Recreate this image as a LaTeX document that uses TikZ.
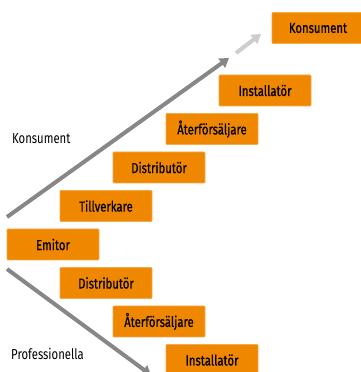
\documentclass[tikz,border=0pt]{standalone}
\usepackage{fontspec}
\setmainfont[FakeStretch=0.78]{Fira Sans}
\newfontfamily\boxfont[FakeStretch=0.78,FakeBold=0.6]{Fira Sans}
\usetikzlibrary{arrows.meta,calc}
\definecolor{boxorange}{RGB}{240,135,0}
\definecolor{arrowgray}{RGB}{135,135,135}
\definecolor{fadegray}{RGB}{205,205,205}

\begin{document}
\begin{tikzpicture}[x=1pt,y=1pt,font=\fontsize{14.5}{16}\selectfont,
    box/.style={fill=boxorange,draw=boxorange!70!white,line width=0.6pt,
      minimum width=92pt,minimum height=31pt,inner sep=0pt,rounded corners=0.8pt,
      font=\boxfont\fontsize{14.5}{16}\selectfont},
    flow/.style={arrowgray,line width=4pt,-{Triangle[length=9pt,width=11pt]}},
    fade/.style={fadegray,line width=4pt,-{Triangle[length=9pt,width=11pt]}}]
    \useasboundingbox (0,0) rectangle (361,372);
    % Emitor
    \node[box] (emitor) at (53,127.5) {Emitor};
    % Konsument chain
    \node[box] (tillv) at ($(emitor)+(53,38.5)$) {Tillverkare};
    \node[box] (distup) at ($(tillv)+(53,38.5)$) {Distributör};
    \node[box] (aterup) at ($(distup)+(53,38.5)$) {Återförsäljare};
    \node[box] (instup) at ($(aterup)+(53,38.5)$) {Installatör};
    \node[box] (kons) at ($(instup)+(53,62.5)$) {Konsument};
    % Professionella chain
    \node[box] (distlow) at ($(emitor)+(53,-38.5)$) {Distributör};
    \node[box] (aterlow) at ($(distlow)+(53,-38.5)$) {Återförsäljare};
    \node[box] (instlow) at ($(aterlow)+(53,-38.5)$) {Installatör};
    % side labels
    \node[anchor=west,inner sep=0pt] (lblkons) at (12,233) {Konsument};
    \node[anchor=west,inner sep=0pt] (lblprof) at (11,18) {Professionella};
    % arrows
    \coordinate (upstart) at (7,155);
    \coordinate (upend) at (229,314);
    \coordinate (fadestart) at (236,319);
    \coordinate (fadeend) at (261,338);
    \coordinate (lowstart) at (7,103);
    \coordinate (lowend) at (151,-3);
    \draw[flow] (upstart) -- (upend);
    \draw[fade] (fadestart) -- (fadeend);
    \draw[flow] (lowstart) -- (lowend);
\end{tikzpicture}
\end{document}
